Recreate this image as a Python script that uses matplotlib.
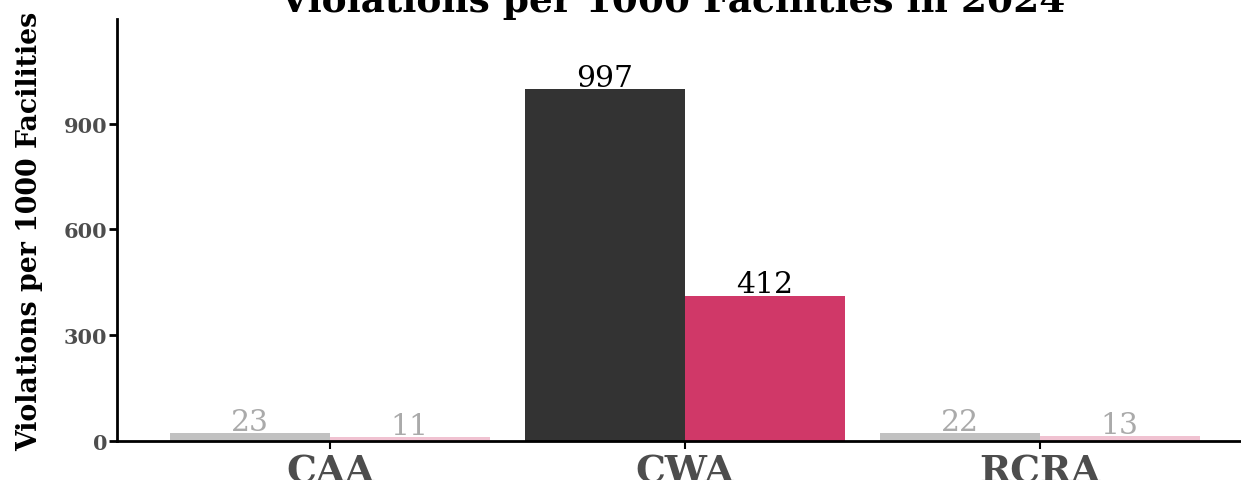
import numpy as np
import matplotlib.pyplot as plt

categories = ['CAA', 'CWA', 'RCRA']
series_a = [23, 997, 22]
series_b = [11, 412, 13]
highlight = 'CWA'

color_a = '#333333'
color_b = '#d03868'

plt.rcParams['font.family'] = 'DejaVu Serif'

fig = plt.figure(figsize=(12.41, 4.81), dpi=100)
ax = fig.add_axes([117 / 1241, 39 / 481, 1136 / 1241, 422 / 481])

x = np.arange(len(categories))
w = 0.45
for i, cat in enumerate(categories):
    alpha = 1.0 if cat == highlight else 0.3
    lab_col = 'black' if cat == highlight else '#aaaaaa'
    ax.bar(x[i] - w / 2, series_a[i], width=w, color=color_a, alpha=alpha)
    ax.bar(x[i] + w / 2, series_b[i], width=w, color=color_b, alpha=alpha)
    ax.annotate(str(series_a[i]), (x[i] - w / 2, series_a[i]), xytext=(0, -2),
                textcoords='offset points', ha='center', va='bottom',
                fontsize=21.5, color=lab_col)
    ax.annotate(str(series_b[i]), (x[i] + w / 2, series_b[i]), xytext=(0, -2),
                textcoords='offset points', ha='center', va='bottom',
                fontsize=21.5, color=lab_col)

ax.set_xlim(-0.6, 2.6)
ax.set_ylim(0, max(series_a + series_b) * 1.2)
ax.set_xticks(x)
ax.set_xticklabels(categories, fontsize=27, fontweight='bold', color='#4d4d4d')
ax.set_yticks([0, 300, 600, 900])
ax.tick_params(axis='y', labelsize=15, labelcolor='#4d4d4d', width=2, length=6, pad=1)
ax.tick_params(axis='x', width=1.5, length=6, pad=2)
for lab in ax.get_yticklabels():
    lab.set_fontweight('bold')
ax.spines['top'].set_visible(False)
ax.spines['right'].set_visible(False)
ax.spines['left'].set_linewidth(2)
ax.spines['bottom'].set_linewidth(2)
ax.set_ylabel('Violations per 1000 Facilities', fontsize=19.3, fontweight='bold', labelpad=15)
ax.set_title('Violations per 1000 Facilities in 2024', fontsize=27, fontweight='bold',
             x=(672 - 117) / 1136, pad=-5)

fig.savefig('out.png', dpi=100)
